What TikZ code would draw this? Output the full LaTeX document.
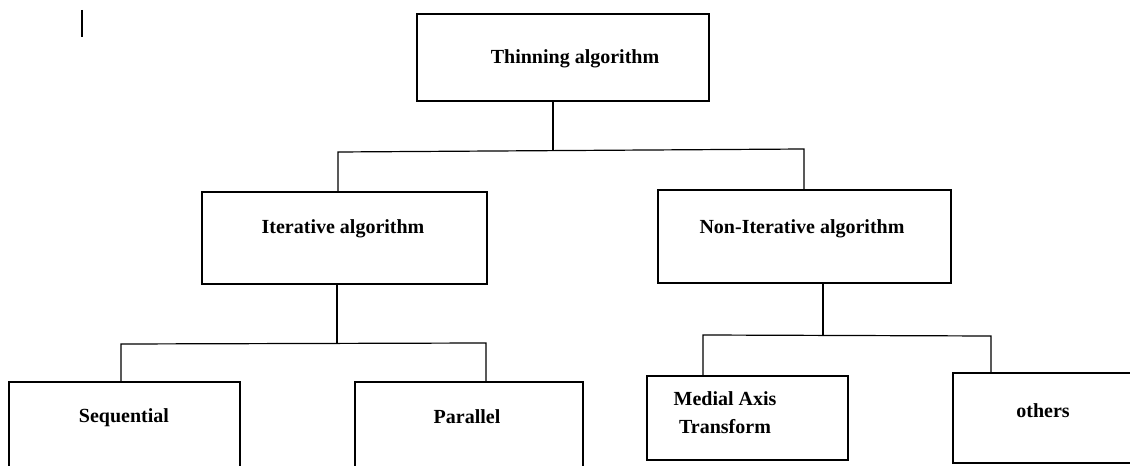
\documentclass[tikz,border=0pt]{standalone}
\usepackage{fontspec}
\setmainfont{Liberation Serif}
\usepackage{tikz}
\usetikzlibrary{positioning}

\tikzset{
  box/.style={draw, line width=1.2pt, inner sep=0pt},
  wire/.style={line width=0.9pt},
  txt/.style={font=\bfseries\fontsize{15}{21}\selectfont, align=center, inner sep=0pt}
}

\begin{document}
\begin{tikzpicture}[x=0.75pt,y=-0.75pt]
    \clip (0,0) rectangle (1130,466);
    \fill[white] (0,0) rectangle (1130,466);
    \draw[line width=1.5pt] (82,10) -- (82,37); % stray mark, top left
    % boxes, starting from the top, and then from the left across a row
    \node[box, minimum width=219pt, minimum height=65.25pt] (thin) at (563,57.5) {};
    \node[box, minimum width=213.75pt, minimum height=69pt] (iter) at (344.5,238) {};
    \node[box, minimum width=219.75pt, minimum height=69.75pt] (noniter) at (804.5,236.5) {};
    \node[box, minimum width=173.25pt, minimum height=88.5pt] (seq) at (124.5,441) {};
    \node[box, minimum width=171pt, minimum height=88.5pt] (par) at (469,441) {};
    \node[box, minimum width=150.75pt, minimum height=63pt] (mat) at (747.5,418) {};
    \node[box, minimum width=155.25pt, minimum height=67.5pt] (oth) at (1056.5,418) {};
\node[txt] (thinT) at (575,59) {Thinning algorithm};
\node[txt] (iterT) at (343,229) {Iterative algorithm};
\node[txt] (noniterT) at (802,229) {Non-Iterative algorithm};
\node[txt] (seqT) at (124,418) {Sequential};
\node[txt] (parT) at (467,417) {Parallel};
\node[txt] (matT) at (725,413) {Medial Axis\\Transform};
\node[txt] (othT) at (1043,411) {others};
    \coordinate (a0) at (553,151);
    \coordinate (aL) at (338,152);
    \coordinate (aR) at (804,149);
    \coordinate (b0) at (337,343);
    \coordinate (bL) at (121,344);
    \coordinate (bR) at (486,343);
    \coordinate (c0) at (823,336);
    \coordinate (cL) at (703,335);
    \coordinate (cR) at (991,336);
    \draw[wire] (thin.south -| a0) -- (a0);
    \draw[wire] (aL |- iter.north) -- (aL) -- (aR) -- (aR |- noniter.north);
    \draw[wire] (iter.south -| b0) -- (b0);
    \draw[wire] (bL |- seq.north) -- (bL) -- (bR) -- (bR |- par.north);
    \draw[wire] (noniter.south -| c0) -- (c0);
    \draw[wire] (cL |- mat.north) -- (cL) -- (cR) -- (cR |- oth.north);
\end{tikzpicture}
\end{document}
